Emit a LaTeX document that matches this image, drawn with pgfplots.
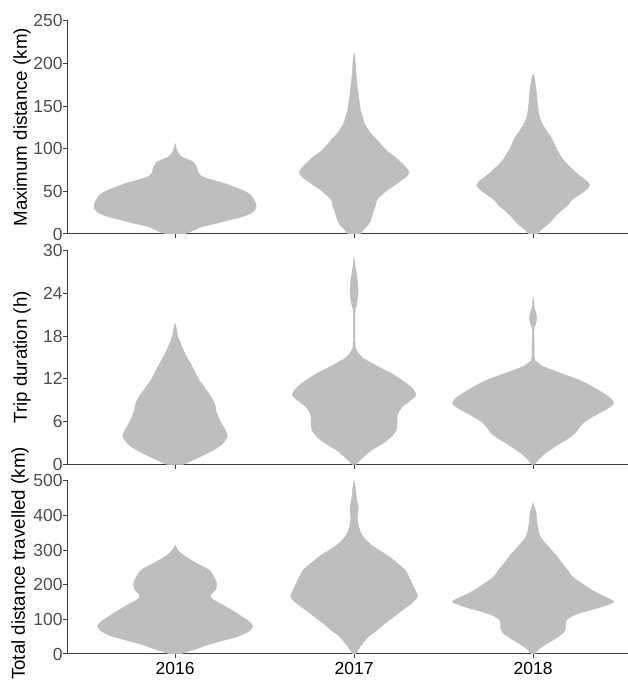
\documentclass[border=0pt]{standalone}
\usepackage{pgfplots}
\usepackage{pgfplotstable}
\pgfplotsset{compat=1.18}
\usepackage{fontspec}
\setmainfont{Liberation Sans}
\definecolor{vfill}{RGB}{190,190,190}
\definecolor{axcol}{RGB}{60,60,60}
\definecolor{tickcol}{RGB}{77,77,77}

\pgfplotsset{
  vaxis/.style={
    scale only axis, width=560.3pt,
    xmin=0.4, xmax=3.53, ymin=0,
    axis x line*=bottom, axis y line*=left,
    axis line style={draw=axcol, line width=1pt},
    tick style={draw=axcol, line width=1pt},
    tick align=outside, major tick length=4.4pt,
    xtick={1,2,3},
    /pgf/number format/assume math mode=true,
    yticklabel style={font=\fontsize{17.5}{19}\selectfont, text=tickcol, inner sep=0.5pt},
    xticklabel style={font=\fontsize{17.5}{19}\selectfont, text=black},
    ylabel style={font=\fontsize{18.7}{21}\selectfont, anchor=center},
    clip=true,
  },
  vio/.style={fill=vfill, draw=vfill, line width=0.5pt, smooth, tension=0.5, forget plot},
}

% Panel 1: maximum distance (y, half-width)
\pgfplotstableread{
y w
0 0
0 0.05
4 0.10
8.6 0.15
12.5 0.23
16.4 0.30
20 0.37
24 0.42
28 0.445
32.7 0.453
38 0.445
43.6 0.43
47.5 0.41
51.4 0.375
55 0.33
59 0.28
62 0.23
65 0.18
68 0.145
71 0.13
75 0.125
78.7 0.12
82 0.11
84.5 0.10
87 0.075
90 0.04
94 0.02
98 0.01
102 0.005
106 0
}\mA
\pgfplotstableread{
y w
0 0
0 0.035
4.7 0.05
10 0.075
15 0.09
20 0.098
28 0.11
34 0.12
39.7 0.126
45 0.15
51.4 0.185
57 0.225
63 0.265
67 0.29
71 0.305
75 0.30
80 0.28
85 0.255
90 0.23
94.5 0.20
100 0.17
106 0.145
112 0.12
118 0.093
125 0.07
131 0.055
137 0.047
145 0.036
150 0.032
156.5 0.028
165 0.022
176 0.016
186 0.011
195 0.008
205 0.005
212 0
}\mB
\pgfplotstableread{
y w
0 0
0 0.025
4.7 0.042
10 0.075
15 0.10
20 0.12
28 0.16
34 0.195
39.7 0.215
45 0.25
50 0.285
54 0.305
57.2 0.315
61 0.305
66 0.275
71 0.245
78.6 0.205
85 0.175
91 0.155
98 0.135
104 0.12
110 0.108
114 0.098
118 0.084
124 0.065
130 0.048
137 0.036
145 0.028
155 0.023
165 0.019
175 0.012
182 0.008
187.7 0
}\mC

% Panel 2: trip duration
\pgfplotstableread{
y w
0 0
0 0.045
0.6 0.10
1.3 0.16
2.0 0.214
2.8 0.26
3.9 0.292
4.8 0.28
5.75 0.258
6.7 0.24
7.5 0.228
8.1 0.225
9.0 0.212
9.7 0.195
10.4 0.175
11.1 0.155
11.8 0.135
13 0.11
14.2 0.085
15.3 0.06
16.5 0.038
17.9 0.016
18.9 0.008
19.8 0
}\dA
\pgfplotstableread{
y w
0 0
0 0.01
0.6 0.033
1.3 0.065
2.0 0.098
2.7 0.145
3.4 0.186
4.1 0.215
4.8 0.235
5.8 0.24
6.7 0.24
7.4 0.25
8.1 0.27
8.9 0.31
9.7 0.345
10.5 0.33
11.4 0.29
12.1 0.25
12.8 0.205
13.5 0.15
14.2 0.098
14.9 0.05
15.6 0.023
16.2 0.01
17 0.005
21.5 0.005
22.1 0.01
22.8 0.016
23.5 0.02
24.5 0.022
25.5 0.02
26.2 0.016
26.8 0.012
27.8 0.006
29.06 0
}\dB
\pgfplotstableread{
y w
0 0
0 0.008
0.8 0.035
1.5 0.065
2.2 0.105
2.95 0.15
3.6 0.195
4.35 0.233
5.1 0.255
5.8 0.28
6.5 0.32
7.2 0.37
7.9 0.42
8.6 0.45
9.3 0.43
10.0 0.39
10.9 0.33
11.8 0.26
12.5 0.185
13.2 0.11
13.8 0.05
14.4 0.019
15 0.007
19 0.005
19.5 0.012
20.5 0.02
21.3 0.015
21.8 0.008
22.5 0.004
23.5 0
}\dC

% Panel 3: total distance travelled
\pgfplotstableread{
y w
0 0
0 0.03
6.7 0.065
15 0.12
26 0.177
38 0.26
50 0.345
62 0.40
79 0.433
95 0.41
105 0.38
117 0.345
131 0.30
146 0.25
156 0.215
165 0.198
175 0.205
185 0.225
200 0.232
213 0.226
228 0.21
242 0.19
256 0.14
271 0.088
282 0.055
290 0.033
300 0.015
314 0
}\tA
\pgfplotstableread{
y w
0 0
0 0.006
10 0.02
21 0.033
35 0.055
50 0.08
68 0.125
88 0.172
107 0.22
127 0.27
146 0.32
165 0.354
180 0.345
195 0.33
213 0.315
228 0.30
242 0.285
262 0.24
281 0.195
296 0.15
310 0.107
324 0.075
338 0.05
352 0.035
367 0.026
381 0.02
396 0.018
410 0.022
425 0.022
440 0.016
455 0.012
470 0.009
485 0.005
500 0
}\tB
\pgfplotstableread{
y w
0 0
0 0.008
8 0.02
16 0.037
28 0.07
40 0.11
52 0.145
62 0.17
72 0.18
85 0.182
98 0.186
110 0.22
118 0.26
127 0.32
139 0.40
151 0.45
163 0.41
175 0.36
190 0.31
204 0.27
216 0.235
228 0.21
240 0.195
252 0.177
266 0.155
281 0.135
295 0.11
310 0.084
324 0.06
338 0.04
352 0.032
367 0.025
386 0.02
406 0.017
420 0.01
435 0
}\tC

\begin{document}
\begin{tikzpicture}
\path[use as bounding box] (0,0) rectangle (628pt,682pt);

\begin{axis}[vaxis, at={(67.7pt,448pt)}, anchor=south west,
  height=213.3pt, ymax=250, ytick={0,50,100,150,200,250},
  xticklabels={},
  ylabel={Maximum distance (km)},
  ylabel style={at={(axis description cs:-0.0816,0.5)}}]
\addplot[vio] table[x expr=1+\thisrow{w}, y=y] {\mA};
\addplot[vio] table[x expr=1-\thisrow{w}, y=y] {\mA};
\addplot[vio] table[x expr=2+\thisrow{w}, y=y] {\mB};
\addplot[vio] table[x expr=2-\thisrow{w}, y=y] {\mB};
\addplot[vio] table[x expr=3+\thisrow{w}, y=y] {\mC};
\addplot[vio] table[x expr=3-\thisrow{w}, y=y] {\mC};
\end{axis}

\begin{axis}[vaxis, at={(67.7pt,217.7pt)}, anchor=south west,
  height=213.6pt, ymax=30, ytick={0,6,12,18,24,30},
  xticklabels={},
  ylabel={Trip duration (h)},
  ylabel style={at={(axis description cs:-0.0816,0.5)}}]
\addplot[vio] table[x expr=1+\thisrow{w}, y=y] {\dA};
\addplot[vio] table[x expr=1-\thisrow{w}, y=y] {\dA};
\addplot[vio] table[x expr=2+\thisrow{w}, y=y] {\dB};
\addplot[vio] table[x expr=2-\thisrow{w}, y=y] {\dB};
\addplot[vio] table[x expr=3+\thisrow{w}, y=y] {\dC};
\addplot[vio] table[x expr=3-\thisrow{w}, y=y] {\dC};
\end{axis}

\begin{axis}[vaxis, at={(67.7pt,28pt)}, anchor=south west,
  height=173.3pt, ymax=500, ytick={0,100,200,300,400,500},
  xticklabels={2016,2017,2018},
  ylabel={Total distance travelled (km)},
  ylabel style={at={(axis description cs:-0.0851,0.522)}}]
\addplot[vio] table[x expr=1+\thisrow{w}, y=y] {\tA};
\addplot[vio] table[x expr=1-\thisrow{w}, y=y] {\tA};
\addplot[vio] table[x expr=2+\thisrow{w}, y=y] {\tB};
\addplot[vio] table[x expr=2-\thisrow{w}, y=y] {\tB};
\addplot[vio] table[x expr=3+\thisrow{w}, y=y] {\tC};
\addplot[vio] table[x expr=3-\thisrow{w}, y=y] {\tC};
\end{axis}
\end{tikzpicture}
\end{document}
